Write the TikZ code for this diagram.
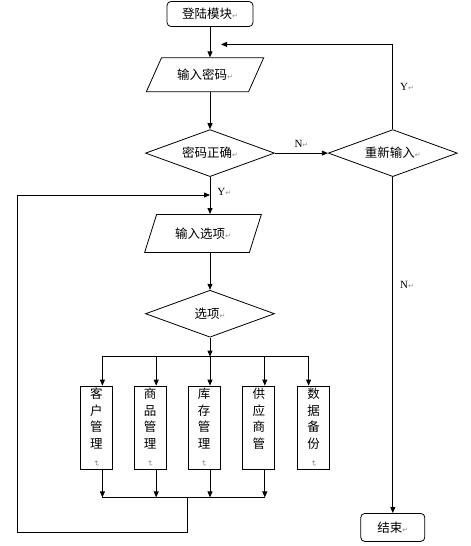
\documentclass[tikz,border=0pt]{standalone}
\usepackage{fontspec}
\usepackage{graphicx}
\setmainfont{Noto Sans CJK SC}
\newfontfamily\latinfont{Liberation Serif}
\newfontfamily\symfont{DejaVu Sans}
\usetikzlibrary{arrows.meta,positioning,shapes.geometric}
\newcommand\crmark{{\symfont\color{black!45}\fontsize{7}{7}\selectfont ↵}}
\newcommand\vcrmark{\rotatebox{-90}{{\symfont\color{black!45}\fontsize{8}{8}\selectfont ↵}}}
\tikzset{
  term/.style={draw, rounded corners=4pt, minimum height=25pt, inner sep=0pt, align=center},
  io/.style={draw, trapezium, trapezium stretches=true, inner sep=0pt, align=center},
  dec/.style={draw, diamond, aspect=2.75, minimum width=129pt, minimum height=47pt, inner sep=0pt, align=center},
  vbox/.style={draw, minimum width=32pt, minimum height=83pt, inner sep=0pt, align=center, font=\fontsize{12.5}{16.7}\selectfont},
  lbl/.style={font=\latinfont\fontsize{11}{13}\selectfont, inner sep=1pt},
  arr/.style={-{Triangle[length=6pt, width=5pt]}},
}
\begin{document}
\begin{tikzpicture}[font=\fontsize{12.5}{15}\selectfont, line width=.8pt]
  \useasboundingbox (0,0) rectangle (471pt,-546pt);
  \node[term, minimum width=86pt] (start) at (210pt,-14pt) {登陆模块\crmark};
  \node[io, trapezium left angle=50, trapezium right angle=130, minimum width=118pt, minimum height=34pt, below=30.5pt of start, xshift=-5pt] (pwd) {输入密码\crmark};
  \node[dec, below=37pt of pwd, xshift=5pt] (check) {密码正确\crmark};
  \node[dec, right=53pt of check] (retype) {重新输入\crmark};
  \node[io, trapezium left angle=58, trapezium right angle=122, minimum width=117pt, minimum height=38pt, below=37pt of check, xshift=-7pt] (inopt) {输入选项\crmark};
  \node[dec, below=37pt of inopt, xshift=7pt] (opt) {选项\crmark};
  \node[vbox, below=48pt of opt, xshift=-6pt] (b3) {库\\存\\管\\理\\[-5pt]\vcrmark};
  \node[vbox, left=21pt of b3] (b2) {商\\品\\管\\理\\[-5pt]\vcrmark};
  \node[vbox, left=21pt of b2] (b1) {客\\户\\管\\理\\[-5pt]\vcrmark};
  \node[vbox, right=22pt of b3] (b4) {供\\应\\商\\管\\[-5pt]\phantom{\vcrmark}};
  \node[vbox, right=22pt of b4] (b5) {数\\据\\备\\份\\[-5pt]\vcrmark};
  \node[term, minimum width=64pt, minimum height=28pt, below=336pt of retype] (stop) {结束\crmark};
  % junction points
  \coordinate[below=17.5pt of start, xshift=11pt] (fb);
  \coordinate[below=18pt of check] (yj);
  \coordinate[below=19pt of opt] (br);
  \coordinate[below=28pt of b3] (mg);
  % main flow
  \draw[arr] (start) -- (start |- pwd.north);
  \draw[arr] (pwd.south -| check) -- (check);
  \draw[arr] (check) -- node[lbl, above=4pt]{N\crmark} (retype);
  \draw[arr] (retype) |- node[lbl, pos=.25, right=6pt]{Y\crmark} (fb);
  \draw[arr] (retype) -- node[lbl, pos=.32, right=6pt]{N\crmark} (stop);
  \draw[arr] (check) -- node[lbl, pos=.4, right=6pt]{Y\crmark} (check |- inopt.north);
  \draw[arr] (inopt.south -| opt) -- (opt);
  \draw[arr] (opt) -- (br);
  % branches
  \draw ([xshift=6pt]b1.north |- br) -- ([xshift=-5pt]b5.north |- br);
  \foreach \b/\dx in {b1/6,b2/6,b3/6,b4/6,b5/-5}
    \draw[arr] ([xshift=\dx pt]\b.north |- br) -- ([xshift=\dx pt]\b.north);
  \foreach \b in {b1,b2,b3,b4}
    \draw[arr] ([xshift=6pt]\b.south) -- ([xshift=6pt]\b.south |- mg);
  \draw ([xshift=6pt]b1.south |- mg) -- ([xshift=6pt]b4.south |- mg);
  % back to menu
  \draw[arr] (b3.south west |- mg) -- ++(0,-35pt) -| ([xshift=-193pt]yj) -- (yj);
\end{tikzpicture}
\end{document}
